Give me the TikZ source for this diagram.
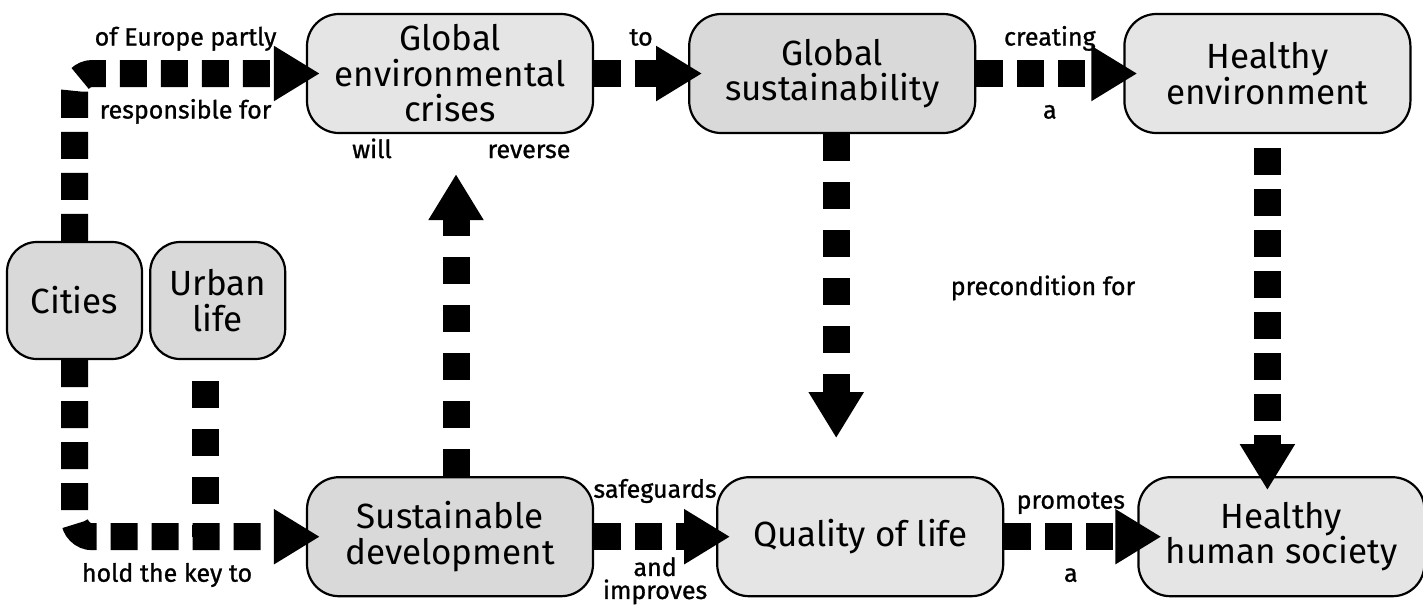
\documentclass[tikz,border=0pt]{standalone}
\usepackage{fontspec}
\setmainfont{Fira Sans}
\newfontfamily\lblfont{Fira Sans}[FakeBold=1]
\usetikzlibrary{arrows.meta,positioning}

\begin{document}
\begin{tikzpicture}[x=0.5pt,y=-0.5pt]
	\tikzstyle{box}=[draw, line width=1.1pt, rounded corners=16pt, align=center, inner sep=0pt, minimum width=143pt, minimum height=59.5pt, font=\fontsize{17.5}{17.75}\selectfont]
	\tikzstyle{small}=[minimum width=67.5pt, minimum height=58.5pt, rounded corners=15pt]
	\tikzstyle{lite}=[fill=black!10]
	\tikzstyle{dark}=[fill=black!15]
	\tikzstyle{lbl}=[inner sep=0pt, align=center, font=\lblfont\fontsize{12.5}{11.5}\selectfont]
	\tikzstyle{lblup}=[lbl, anchor=base, yshift=14pt]
	\tikzstyle{lbldn}=[lbl, anchor=base, yshift=-22.5pt]
	\tikzstyle{flow}=[line width=13.5pt, dash pattern=on 13.5pt off 7pt, -{Triangle[length=23pt,width=26pt]}, shorten >=-7pt]
	\tikzstyle{flowlong}=[flow, dash pattern=on 13.5pt off 10.5pt]

	\useasboundingbox (0,0) rectangle (1423,606);

	\node[box,lite] (crises) at (450,73.5) {Global\\environmental\\crises};
	\node[box,dark] (gsust) [right=47pt of crises] {Global\\sustainability};
	\node[box,lite] (henv) [right=73.5pt of gsust] {Healthy\\environment};
	\node[box,dark] (sdev) [below=171pt of crises] {Sustainable\\development};
	\node[box,lite] (qol) [right=61pt of sdev] {Quality of life};
	\node[box,lite] (hhs) [right=66.5pt of qol] {Healthy\\human society};
	\node[box,small,dark] (cities) at (74.5,300.5) {Cities};
	\node[box,small,dark] (urban) [right=3pt of cities] {Urban\\life};

	\node[lbl, anchor=base] (will) at (372,158) {will};
	\node[lbl, anchor=base] (reverse) at (529,158) {reverse};
	\node[lbl, anchor=base] (precond) at (1043,295) {precondition for};

	% cities and urban life
	\draw[flow, rounded corners=9pt] (cities.north) |- node[lblup, pos=0.74]{of Europe partly} node[lbldn, pos=0.74]{responsible for} (crises.west);
	\draw[flow, rounded corners=9pt] (cities.south) |- node[lbldn, pos=0.7]{hold the key to} (sdev.west);
	\draw[flowlong, -, shorten >=0pt, dash phase=13.5pt] ([xshift=-6pt]urban.south) -- ([xshift=-6pt]urban.south |- sdev.west);

	% top row
	\draw[flow] (crises) -- node[lblup]{to} (gsust);
	\draw[flow] (gsust) -- node[lblup]{creating} node[lbldn]{a} (henv);

	% bottom row
	\draw[flow] (sdev) -- node[lbl, anchor=base, yshift=19.5pt]{safeguards} node[lbl, anchor=north, yshift=-3.5pt]{and\\improves} (qol);
	\draw[flow, shorten >=-12pt] (qol) -- node[lblup]{promotes} node[lbldn]{a} (hhs);

	% verticals
	\draw[flowlong, shorten >=20pt] ([xshift=3pt]sdev.north) -- ([xshift=3pt]sdev.north |- crises.south);
	\draw[flowlong, shorten >=19pt] ([xshift=2pt]gsust.south) -- ([xshift=2pt]gsust.south |- qol.north);
	\draw[flow, dash phase=13.5pt] (henv.south) -- (henv.south |- hhs.north);
\end{tikzpicture}
\end{document}
